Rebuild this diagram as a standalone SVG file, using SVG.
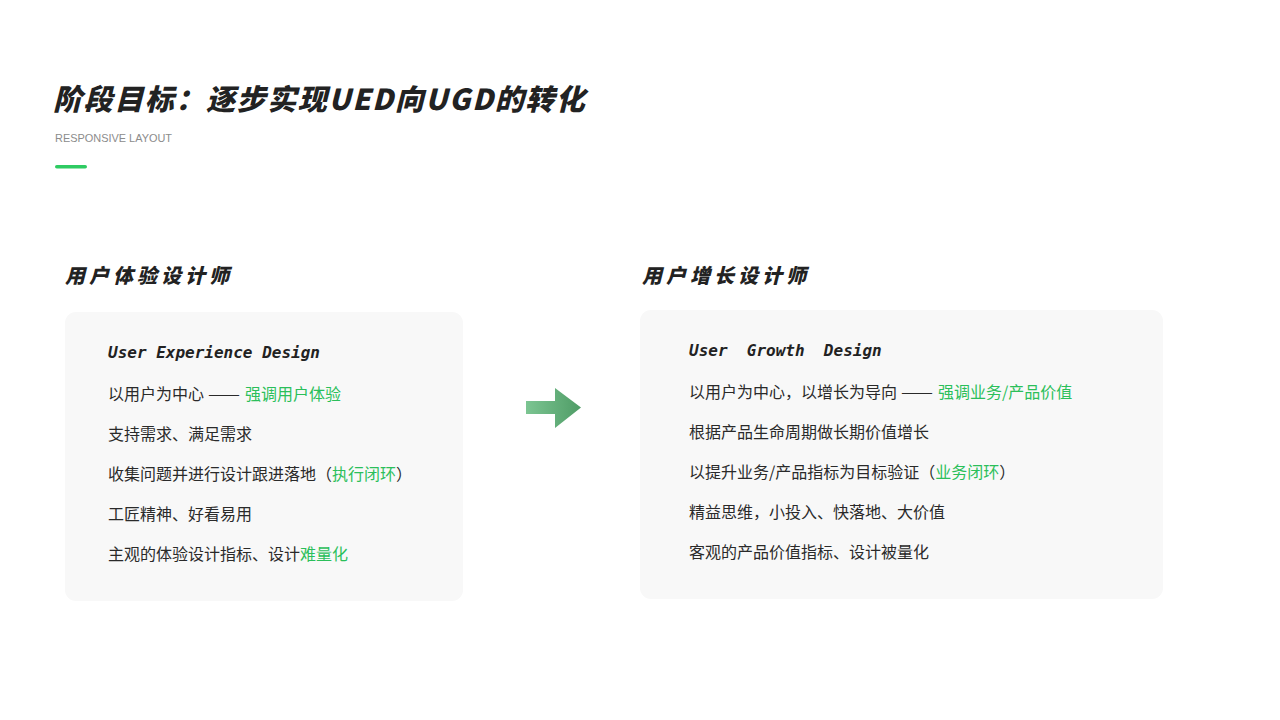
<svg xmlns="http://www.w3.org/2000/svg" width="1280" height="720" viewBox="0 0 1280 720">
<defs>
<style>
.title{font-family:"Noto Sans CJK SC","Noto Sans",sans-serif;font-weight:900;font-style:italic;font-size:29px;fill:#222;letter-spacing:1.6px}
.sub{font-family:"Liberation Sans","Noto Sans",sans-serif;font-size:11.5px;fill:#8c8c8c}
.head{font-family:"Noto Sans CJK SC",sans-serif;font-weight:900;font-style:italic;font-size:20px;fill:#222;letter-spacing:4px}
.card{fill:#f8f8f8}
.en{font-family:"DejaVu Sans Mono","Liberation Mono",monospace;font-weight:bold;font-style:italic;font-size:16px;fill:#222;white-space:pre}
.body{font-family:"Noto Sans CJK SC","Noto Sans",sans-serif;font-size:16px;fill:#2a2a2a;white-space:pre}
.g{fill:#2bbf5a}
</style>
<linearGradient id="ag" x1="0" y1="0" x2="1" y2="0">
<stop offset="0" stop-color="#7cc592"/>
<stop offset="1" stop-color="#4f9c66"/>
</linearGradient>
</defs>
<rect width="1280" height="720" fill="#fff"/>
<g id="header">
<text class="title" x="53" y="110">阶段目标：逐步实现UED向UGD的转化</text>
<text class="sub" x="55" y="142" textLength="117" lengthAdjust="spacingAndGlyphs">RESPONSIVE LAYOUT</text>
<rect x="55" y="165" width="32" height="3.5" rx="1.75" fill="#2ecb62"/>
</g>
<g id="node-ued">
<text class="head" x="65" y="283">用户体验设计师</text>
<rect class="card" x="65" y="312" width="398" height="289" rx="11"/>
<text class="en" x="108" y="358">User Experience Design</text>
<text class="body" x="108" y="400">以用户为中心</text>
<text class="body" x="208" y="400" textLength="32" lengthAdjust="spacingAndGlyphs">——</text>
<text class="body g" x="245" y="400">强调用户体验</text>
<text class="body" x="108" y="440">支持需求、满足需求</text>
<text class="body" x="108" y="480">收集问题并进行设计跟进落地（<tspan class="g">执行闭环</tspan>）</text>
<text class="body" x="108" y="520">工匠精神、好看易用</text>
<text class="body" x="108" y="560">主观的体验设计指标、设计<tspan class="g">难量化</tspan></text>
</g>
<g id="node-ugd">
<text class="head" x="642" y="283">用户增长设计师</text>
<rect class="card" x="640" y="310" width="523" height="289" rx="11"/>
<text class="en" x="689" y="356">User  Growth  Design</text>
<text class="body" x="689" y="398">以用户为中心，以增长为导向</text>
<text class="body" x="901" y="398" textLength="32" lengthAdjust="spacingAndGlyphs">——</text>
<text class="body g" x="938" y="398">强调业务/产品价值</text>
<text class="body" x="689" y="438">根据产品生命周期做长期价值增长</text>
<text class="body" x="689" y="478">以提升业务/产品指标为目标验证（<tspan class="g">业务闭环</tspan>）</text>
<text class="body" x="689" y="518">精益思维，小投入、快落地、大价值</text>
<text class="body" x="689" y="558">客观的产品价值指标、设计被量化</text>
</g>
<g id="connectors">
<polygon points="526,401 555,401 555,388 581,407.5 555,428 555,414 526,414" fill="url(#ag)"/>
</g>
</svg>
